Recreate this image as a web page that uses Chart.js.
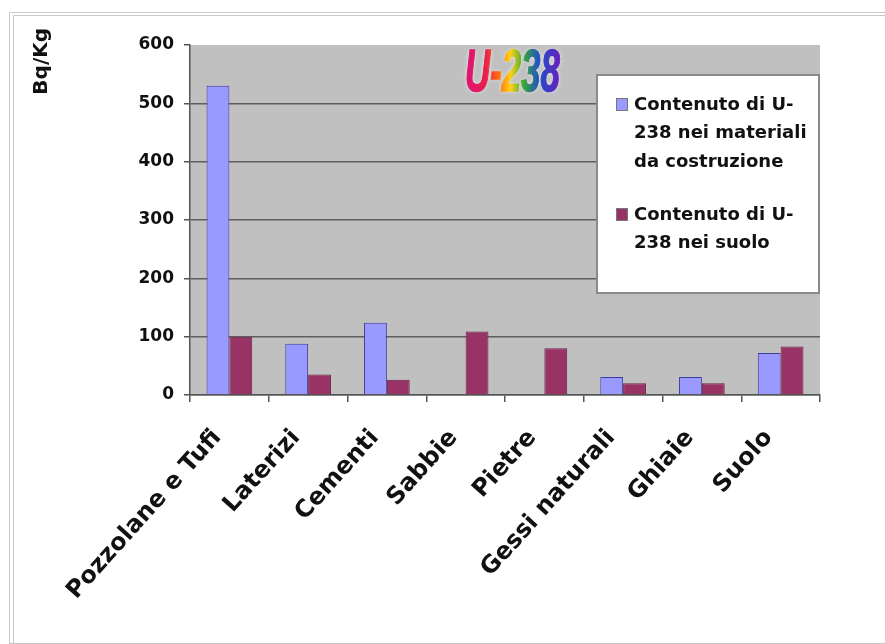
<!DOCTYPE html>
<html>
<head>
<meta charset="utf-8">
<script src="https://cdn.jsdelivr.net/npm/chart.js@4/dist/chart.umd.min.js"></script>
<style>
  html,body{margin:0;padding:0;background:#fff;}
  #wrap{width:885px;height:644px;position:relative;}
</style>
</head>
<body>
<div id="wrap"><canvas id="u238" width="885" height="644"></canvas></div>
<script>
// U-238 activity in building materials vs. soil (Bq/Kg)
const categories = ['Pozzolane e Tufi', 'Laterizi', 'Cementi', 'Sabbie', 'Pietre', 'Gessi naturali', 'Ghiaie', 'Suolo'];
const materiali = [530, 88, 124, null, null, 31, 31, 72];
const suolo = [100, 35, 26, 109, 80, 20, 20, 83];
const yTicks = [0, 100, 200, 300, 400, 500, 600];
const legendMateriali = ['Contenuto di U-', '238 nei materiali', 'da costruzione'];
const legendSuolo = ['Contenuto di U-', '238 nei suolo'];
const titleText = 'U-238';
const unitText = 'Bq/Kg';

const FONT = '"DejaVu Sans", "Liberation Sans", Arial, sans-serif';

// white page, thin grey frame and the grey plot background
const backdrop = {
  id: 'backdrop',
  beforeDraw(chart){
    const {ctx, chartArea:a} = chart;
    ctx.save();
    ctx.fillStyle = '#fff';
    ctx.fillRect(0, 0, chart.width, chart.height);
    ctx.strokeStyle = '#c8c8c8';
    ctx.lineWidth = 1;
    ctx.beginPath();
    ctx.moveTo(9.5, 643.5); ctx.lineTo(9.5, 12.5); ctx.lineTo(885, 12.5);
    ctx.moveTo(13.5, 643.5); ctx.lineTo(13.5, 15.5); ctx.lineTo(885, 15.5);
    ctx.moveTo(9, 643.5); ctx.lineTo(885, 643.5);
    ctx.stroke();
    ctx.fillStyle = '#c0c0c0';
    ctx.fillRect(a.left, a.top, a.right - a.left, a.bottom - a.top);
    ctx.restore();
  }
};

// rainbow title, unit label and the boxed legend
const overlay = {
  id: 'overlay',
  afterDraw(chart){
    const {ctx} = chart;
    ctx.save();

    // title
    ctx.save();
    ctx.translate(465, 91);
    ctx.scale(0.58, 1);
    ctx.font = 'italic bold 60px "Liberation Sans", Arial, sans-serif';
    ctx.textBaseline = 'alphabetic';
    const w = ctx.measureText(titleText).width;
    const g = ctx.createLinearGradient(0, 0, w, 0);
    g.addColorStop(0.0, '#e0107a');
    g.addColorStop(0.22, '#e8204a');
    g.addColorStop(0.35, '#ff6a10');
    g.addColorStop(0.48, '#ffd21a');
    g.addColorStop(0.62, '#38a838');
    g.addColorStop(0.78, '#2050c8');
    g.addColorStop(1.0, '#6a1ec0');
    ctx.shadowColor = 'rgba(255,255,255,0.8)';
    ctx.shadowBlur = 4;
    ctx.fillStyle = g;
    ctx.fillText(titleText, 0, 0);
    ctx.shadowBlur = 0;
    ctx.strokeStyle = g;
    ctx.lineWidth = 1.5;
    ctx.strokeText(titleText, 0, 0);
    ctx.restore();

    // unit label on the left, rotated
    ctx.save();
    ctx.translate(47, 28);
    ctx.rotate(-Math.PI / 2);
    ctx.font = 'bold 20px ' + FONT;
    ctx.fillStyle = '#111';
    ctx.textAlign = 'right';
    ctx.textBaseline = 'alphabetic';
    ctx.fillText(unitText, 0, 0);
    ctx.restore();

    // legend box
    const bx = 597, by = 75, bw = 222, bh = 218;
    ctx.fillStyle = '#fff';
    ctx.fillRect(bx, by, bw, bh);
    ctx.strokeStyle = '#8a8a8a';
    ctx.lineWidth = 2;
    ctx.strokeRect(bx, by, bw, bh);
    const items = [
      {lines: legendMateriali, color: chart.data.datasets[0].backgroundColor, y: 105},
      {lines: legendSuolo, color: chart.data.datasets[1].backgroundColor, y: 215}
    ];
    ctx.font = 'bold 18px ' + FONT;
    ctx.textBaseline = 'middle';
    ctx.textAlign = 'left';
    items.forEach(it => {
      ctx.fillStyle = it.color;
      ctx.fillRect(616, it.y - 7, 12, 13);
      ctx.strokeStyle = '#777';
      ctx.lineWidth = 1;
      ctx.strokeRect(616.5, it.y - 6.5, 11, 12);
      ctx.fillStyle = '#111';
      it.lines.forEach((ln, i) => ctx.fillText(ln, 634, it.y + i * 28.5));
    });
    ctx.restore();
  }
};

new Chart(document.getElementById('u238'), {
  type: 'bar',
  data: {
    labels: categories,
    datasets: [
      { label: legendMateriali.join(' '), data: materiali, backgroundColor: '#9999ff', borderColor: '#3a3aa0', borderWidth: 1 },
      { label: legendSuolo.join(' '), data: suolo, backgroundColor: '#993366', borderColor: '#6a2046', borderWidth: 1 }
    ]
  },
  options: {
    responsive: false,
    animation: false,
    categoryPercentage: 0.58,
    barPercentage: 1.0,
    layout: { padding: { left: 14, right: 65, top: 45, bottom: 0 } },
    plugins: { legend: { display: false }, title: { display: false }, tooltip: { enabled: false } },
    scales: {
      x: {
        afterFit(s){ s.height = 249; },
        grid: { drawOnChartArea: false, offset: true, tickLength: 7, tickColor: '#555', lineWidth: 1.5 },
        border: { color: '#555', width: 1.5 },
        ticks: { autoSkip: false, maxRotation: 48, minRotation: 48, padding: 22, labelOffset: -12, color: '#111', font: { family: FONT, size: 24, weight: 'bold' } }
      },
      y: {
        min: 0, max: 600,
        afterFit(s){ s.width = 176; },
        afterBuildTicks(s){ s.ticks = yTicks.map(v => ({ value: v })); },
        grid: {
          color: c => (c.tick && c.tick.value === 600) ? 'rgba(0,0,0,0)' : '#5e5e5e',
          tickColor: '#555', tickLength: 6, lineWidth: 1.5
        },
        border: { color: '#555', width: 1.5 },
        ticks: { padding: 10, color: '#111', font: { family: FONT, size: 17, weight: 'bold' } }
      }
    }
  },
  plugins: [backdrop, overlay]
});
</script>
</body>
</html>
